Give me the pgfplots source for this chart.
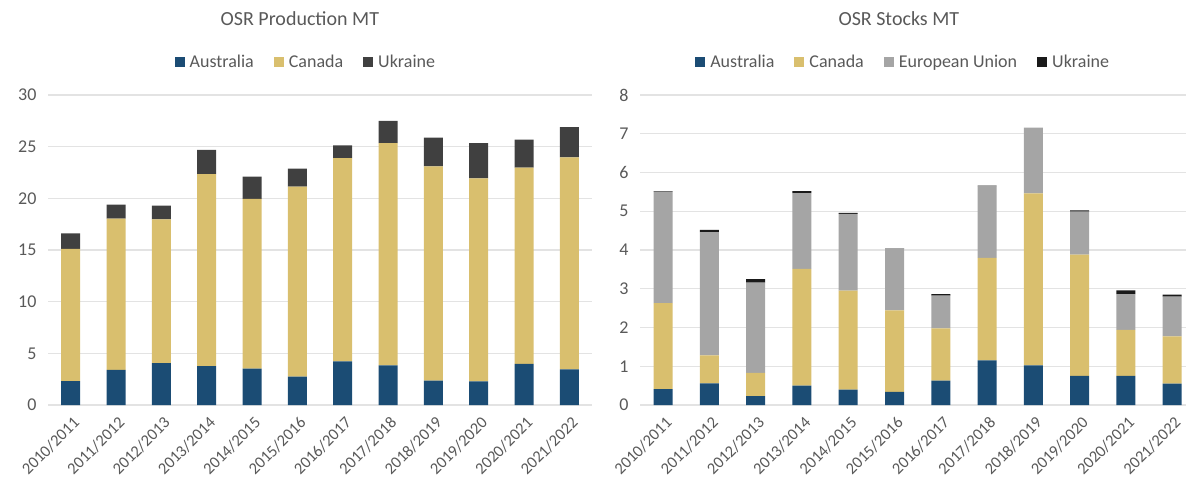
\documentclass[border=0pt]{standalone}
\usepackage{pgfplots}
\pgfplotsset{compat=1.18}
\usepackage{pgfplotstable}
\usepackage{fontspec}
\setmainfont{Carlito}
\definecolor{aus}{HTML}{1B4C74}
\definecolor{can}{HTML}{D9BF6E}
\definecolor{ukrP}{HTML}{404040}
\definecolor{eu}{HTML}{A5A5A5}
\definecolor{ukrS}{HTML}{1A1A1A}
\definecolor{txt}{HTML}{595959}
\definecolor{grd}{HTML}{E3E3E3}

\pgfplotstableread{
x aus can ukr
0 2.32 12.78 1.50
1 3.39 14.64 1.37
2 4.06 13.91 1.33
3 3.77 18.58 2.35
4 3.52 16.42 2.16
5 2.74 18.39 1.74
6 4.23 19.67 1.23
7 3.84 21.51 2.15
8 2.35 20.75 2.77
9 2.29 19.65 3.41
10 3.97 19.00 2.71
11 3.45 20.52 2.93
}\prodtable

\pgfplotstableread{
x aus can eu ukr
0 0.41 2.22 2.87 0.01
1 0.56 0.72 3.18 0.06
2 0.23 0.60 2.33 0.09
3 0.50 3.01 1.96 0.05
4 0.40 2.55 1.98 0.03
5 0.34 2.10 1.60 0.01
6 0.63 1.35 0.84 0.04
7 1.15 2.65 1.85 0.01
8 1.02 4.44 1.70 0.00
9 0.75 3.13 1.11 0.03
10 0.75 1.19 0.92 0.10
11 0.55 1.22 1.03 0.05
}\stocktable

\pgfplotsset{
  mybar/.style={
    ybar stacked, bar width=19pt, scale only axis, ymin=0,
    enlargelimits=false, xmin=-0.5,
    xtick={0,...,11},
    xticklabels={2010/2011,2011/2012,2012/2013,2013/2014,2014/2015,2015/2016,2016/2017,2017/2018,2018/2019,2019/2020,2020/2021,2021/2022},
    axis line style={draw=none}, major tick style={draw=none},
    ymajorgrids, grid style={grd, line width=1.2pt},
    yticklabel style={font=\fontsize{18}{18}\selectfont, text=txt, xshift=-8pt},
    xticklabel style={font=\fontsize{16.5}{16.5}\selectfont, text=txt, rotate=45, anchor=north east, inner sep=1pt, yshift=-7.5pt, xshift=-5.5pt},
    /pgf/number format/assume math mode=true,
    legend columns=-1,
    legend style={draw=none, fill=none, font=\fontsize{18}{18}\selectfont, text=txt,
      /tikz/every even column/.append style={column sep=18pt},
      /tikz/every odd column/.append style={column sep=3pt}},
    legend image code/.code={\fill[##1] (0pt,-4.5pt) rectangle (10pt,5.5pt);},
    title style={font=\fontsize{20}{20}\selectfont, text=txt, anchor=center},
  }
}

\begin{document}
\begin{tikzpicture}
\path[use as bounding box] (0,0) rectangle (1186pt,482pt);
\begin{axis}[mybar, at={(48pt,77pt)}, anchor=south west,
  width=544pt, height=310pt, xmax=11.5, ymax=30, ytick={0,5,...,30},
  title={OSR Production MT}, title style={at={(0.463,1.226)}},
  legend style={at={(0.474,1.106)}, anchor=center}]
\addplot[fill=aus, draw=none] table[x=x, y=aus] {\prodtable};
\addplot[fill=can, draw=none] table[x=x, y=can] {\prodtable};
\addplot[fill=ukrP, draw=none] table[x=x, y=ukr] {\prodtable};
\legend{Australia, Canada, Ukraine}
\end{axis}
\begin{axis}[mybar, at={(640pt,77pt)}, anchor=south west,
  width=546pt, height=310pt, xmax=11.3, ymax=8, ytick={0,...,8},
  title={OSR Stocks MT}, title style={at={(0.474,1.226)}},
  legend style={at={(0.482,1.106)}, anchor=center}]
\addplot[fill=aus, draw=none] table[x=x, y=aus] {\stocktable};
\addplot[fill=can, draw=none] table[x=x, y=can] {\stocktable};
\addplot[fill=eu, draw=none] table[x=x, y=eu] {\stocktable};
\addplot[fill=ukrS, draw=none] table[x=x, y=ukr] {\stocktable};
\legend{Australia, Canada, European Union, Ukraine}
\end{axis}
\end{tikzpicture}
\end{document}
